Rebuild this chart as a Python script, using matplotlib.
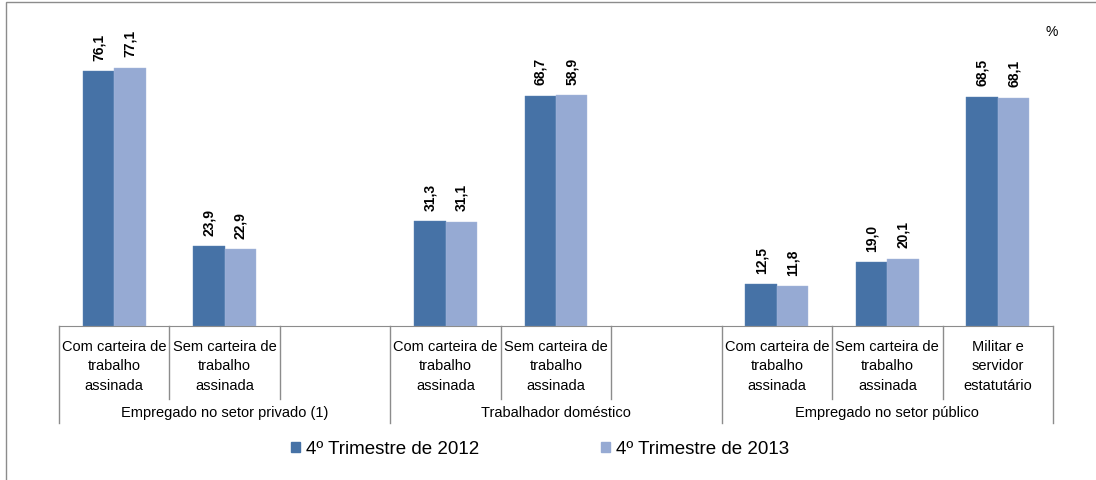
import numpy as np
import matplotlib
matplotlib.use("Agg")
import matplotlib.pyplot as plt
from matplotlib.patches import Rectangle, Patch

plt.rcParams["font.family"] = ["Liberation Sans", "DejaVu Sans"]

# slots: 3 groups x 3 slots (third slot empty in the first two groups)
slot_labels = [
    "Com carteira de\ntrabalho\nassinada", "Sem carteira de\ntrabalho\nassinada", "",
    "Com carteira de\ntrabalho\nassinada", "Sem carteira de\ntrabalho\nassinada", "",
    "Com carteira de\ntrabalho\nassinada", "Sem carteira de\ntrabalho\nassinada", "Militar e\nservidor\nestatutário",
]
group_labels = ["Empregado no setor privado (1)", "Trabalhador doméstico", "Empregado no setor público"]

vals_2012 = [76.1, 23.9, np.nan, 31.3, 68.7, np.nan, 12.5, 19.0, 68.5]
vals_2013 = [77.1, 22.9, np.nan, 31.1, 68.9, np.nan, 11.8, 20.1, 68.1]
text_2013 = ["77,1", "22,9", "", "31,1", "58,9", "", "11,8", "20,1", "68,1"]

series_names = ["4º Trimestre de 2012", "4º Trimestre de 2013"]
colors = ["#4672A6", "#96AAD3"]

W, H = 1096, 481
fig = plt.figure(figsize=(W / 100, H / 100), dpi=100)
base_px = 327
top_px = 25.5
ax_h = base_px - top_px
ax = fig.add_axes([59 / W, 1 - base_px / H, (1053 - 59) / W, ax_h / H])

x = np.arange(len(slot_labels))
bw = 0.285
ax.bar(x - bw / 2, vals_2012, bw, color=colors[0], edgecolor="#5b82b5", linewidth=0.3)
ax.bar(x + bw / 2, vals_2013, bw, color=colors[1], edgecolor="#a9bbdd", linewidth=0.3)

for i in range(len(x)):
    if not np.isnan(vals_2012[i]):
        ax.text(x[i] - bw / 2, vals_2012[i] + 3.4, f"{vals_2012[i]:.1f}".replace(".", ","),
                rotation=90, ha="center", va="bottom", fontsize=10, fontweight="bold")
    if text_2013[i]:
        ax.text(x[i] + bw / 2, vals_2013[i] + 3.4, text_2013[i],
                rotation=90, ha="center", va="bottom", fontsize=10, fontweight="bold")

ax.set_xlim(-0.5, len(x) - 0.5)
ax.set_ylim(0, 90)
ax.set_xticks([])
ax.set_yticks([])
for s in ["top", "right", "left"]:
    ax.spines[s].set_visible(False)
ax.spines["bottom"].set_color("#8c8c8c")


def fy(py):
    # pixel row -> axes fraction
    return (base_px - py) / ax_h


tr = ax.get_xaxis_transform()
line_kw = dict(color="#8c8c8c", linewidth=1, transform=tr, clip_on=False)
for b in np.arange(-0.5, len(x), 1.0):
    bottom = 424 if int(b + 0.5) % 3 == 0 else 400
    ax.plot([b, b], [0, fy(bottom)], **line_kw)

for i, lab in enumerate(slot_labels):
    ax.text(x[i], fy(340), lab, transform=tr, ha="center", va="top",
            fontsize=10.5, linespacing=1.5)

for g, lab in enumerate(group_labels):
    ax.text(3 * g + 1, fy(413), lab, transform=tr, ha="center", va="center", fontsize=10.5)

fig.text(1052 / W, 1 - 32 / H, "%", ha="center", va="center", fontsize=10)

handles = [Patch(color=c) for c in colors]
fig.legend(handles, series_names, loc="center", bbox_to_anchor=(540 / W, 1 - 450 / H),
           ncol=2, frameon=False, fontsize=13.5, handlelength=0.5, handleheight=0.5,
           handletextpad=0.3, columnspacing=6.5)

fig.patches.append(Rectangle((6 / W, -0.2), 1.2, 1.2 - 2.5 / H, transform=fig.transFigure,
                             fill=False, edgecolor="#8c8c8c", linewidth=1))

fig.savefig("out.png", dpi=100)
